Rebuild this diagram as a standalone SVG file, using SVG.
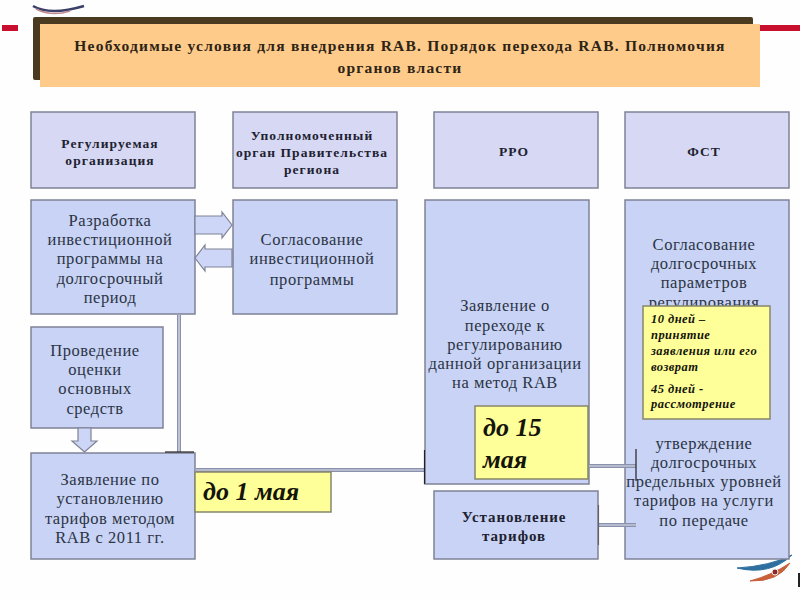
<svg xmlns="http://www.w3.org/2000/svg" width="800" height="600" viewBox="0 0 800 600">
<style>
.b{fill:#c8d3f5;stroke:#7f8296;stroke-width:1.5}
.h{fill:#d6d8f4;stroke:#7f8296;stroke-width:1.5}
.y{fill:#ffff99;stroke:#85866a;stroke-width:1.5}
.t{font-family:"Liberation Serif",serif;text-anchor:middle;fill:#2c3444;font-size:16.5px;letter-spacing:.55px}
.hd{font-family:"Liberation Serif",serif;text-anchor:middle;fill:#1e2230;font-size:13.5px;font-weight:bold;letter-spacing:1.05px}
.hl{font-size:15px;letter-spacing:.9px}
.i{font-family:"Liberation Serif",serif;fill:#14140a;font-style:italic;font-weight:bold}
.s{font-size:12.5px;letter-spacing:.45px}
.ar{fill:#cdd6f6;stroke:#7f8296;stroke-width:1.2}
.ln{fill:none;stroke:#8a91ac;stroke-width:4}
.li{fill:none;stroke:#dfe3f2;stroke-width:1.2}
.k{fill:none;stroke:#222;stroke-width:1.2}
.tt{font-family:"Liberation Serif",serif;font-size:15.5px;font-weight:bold;letter-spacing:1.23px;fill:#2e2416;text-anchor:middle}
</style>
<rect width="800" height="600" fill="#fefefe"/>
<g id="decor">
<rect x="2" y="25" width="16" height="6" fill="#c8102e"/>
<rect x="760" y="25" width="40" height="6" fill="#c8102e"/>
<path d="M33 6Q50 16 84 6" fill="none" stroke="#3b3f6a" stroke-width="2.500"/>
<path d="M36 9Q52 17 70 11" fill="none" stroke="#c08a90" stroke-width="1.500"/>
<path d="M737 568Q770 576 792 555Q770 566 737 568Z" fill="#2f6f9f" stroke="#2f6f9f"/>
<path d="M750 581Q778 582 790 563Q772 575 750 581Z" fill="#c8603a" stroke="#c8603a"/>
<circle cx="775" cy="572" r="3" fill="#8a2a2a" stroke="#eee"/>
<rect x="798" y="573" width="2" height="14" fill="#222"/>
</g>
<g id="title">
<rect x="33" y="17" width="720" height="63" rx="2" fill="#4a3a20"/>
<rect x="40" y="24" width="720" height="63" fill="#fecb8a"/>
<text class="tt" x="400" y="51">Необходимые условия для внедрения RAB. Порядок перехода RAB. Полномочия</text>
<text class="tt" x="400" y="73">органов власти</text>
</g>
<g id="n1"><rect class="h" x="31" y="112" width="164" height="76"/><text class="hd" x="110" y="148">Регулируемая</text><text class="hd" x="110" y="165">организация</text></g>
<g id="n2"><rect class="h" x="233" y="112" width="164" height="76"/><text class="hd" x="312" y="140">Уполномоченный</text><text class="hd" x="312" y="157">орган Правительства</text><text class="hd" x="312" y="174">региона</text></g>
<g id="n3"><rect class="h" x="434" y="112" width="164" height="76"/><text class="hd" x="514" y="156">РРО</text></g>
<g id="n4"><rect class="h" x="625" y="112" width="164" height="76"/><text class="hd" x="704" y="156">ФСТ</text></g>
<g id="n5"><rect class="b" x="31" y="200" width="164" height="114"/><text class="t" x="110" y="226">Разработка</text><text class="t" x="110" y="245">инвестиционной</text><text class="t" x="110" y="264">программы на</text><text class="t" x="110" y="284">долгосрочный</text><text class="t" x="110" y="303">период</text></g>
<g id="n6"><rect class="b" x="233" y="200" width="164" height="114"/><text class="t" x="312" y="245">Согласование</text><text class="t" x="312" y="264">инвестиционной</text><text class="t" x="312" y="285">программы</text></g>
<g id="n7"><rect class="b" x="31" y="327" width="132" height="101"/><text class="t" x="95" y="356">Проведение</text><text class="t" x="95" y="375">оценки</text><text class="t" x="95" y="394">основных</text><text class="t" x="95" y="414">средств</text></g>
<g id="n8"><rect class="b" x="31" y="453" width="164" height="106"/><text class="t" x="110" y="485">Заявление по</text><text class="t" x="110" y="504">установлению</text><text class="t" x="110" y="524">тарифов методом</text><text class="t" x="110" y="543">RAB с 2011 гг.</text></g>
<g id="n9"><rect class="b" x="425" y="200" width="164" height="284"/><text class="t" x="505" y="311">Заявление о</text><text class="t" x="505" y="331">переходе к</text><text class="t" x="505" y="350">регулированию</text><text class="t" x="505" y="369">данной организации</text><text class="t" x="505" y="388">на метод RAB</text></g>
<g id="n10"><rect class="b" x="625" y="200" width="164" height="359"/><text class="t" x="704" y="250">Согласование</text><text class="t" x="704" y="269">долгосрочных</text><text class="t" x="704" y="288">параметров</text><text class="t" x="704" y="308">регулирования</text><text class="t" x="704" y="449">утверждение</text><text class="t" x="704" y="468">долгосрочных</text><text class="t" x="704" y="487">предельных уровней</text><text class="t" x="704" y="506">тарифов на услуги</text><text class="t" x="704" y="526">по передаче</text></g>
<g id="n11"><rect class="b" x="434" y="491" width="164" height="68"/><text class="hd hl" x="514" y="522">Установление</text><text class="hd hl" x="514" y="541">тарифов</text></g>
<g id="connectors">
<path class="ar" d="M195 216H222V212L232 225L222 238V234H195Z"/>
<path class="ar" d="M232 249H205V245L195 258L205 271V267H232Z"/>
<path class="ar" d="M78 428H91V441H97L84.500 452L72 441H78Z"/>
<path class="ln" d="M179 315V452"/><path class="li" d="M179 315V452"/>
<path class="k" d="M165 452H194"/>
<path class="ln" d="M196 470H425"/><path class="li" d="M196 470H425"/>
<path class="k" d="M424.500 450V484"/>
<path class="ln" d="M589 466H636"/><path class="li" d="M589 466H636"/>
<path class="k" d="M636 449V481"/>
<path class="ln" d="M599 525H636"/><path class="li" d="M599 525H636"/>
<path class="k" stroke-opacity=".5" d="M598.500 505V545"/>
</g>
<g id="n12"><rect class="y" x="195" y="472" width="136" height="40"/><text class="i" x="203" y="500" font-size="26">до 1 мая</text></g>
<g id="n13"><rect class="y" x="475" y="406" width="113" height="73"/><text class="i" x="483" y="436" font-size="26">до 15</text><text class="i" x="483" y="468" font-size="26">мая</text></g>
<g id="n14"><rect class="y" x="643" y="306" width="127" height="113"/><text class="i s" x="651" y="323">10 дней –</text><text class="i s" x="651" y="339">принятие</text><text class="i s" x="651" y="355">заявления или его</text><text class="i s" x="651" y="371">возврат</text><text class="i s" x="651" y="393">45 дней -</text><text class="i s" x="651" y="408">рассмотрение</text></g>
</svg>
